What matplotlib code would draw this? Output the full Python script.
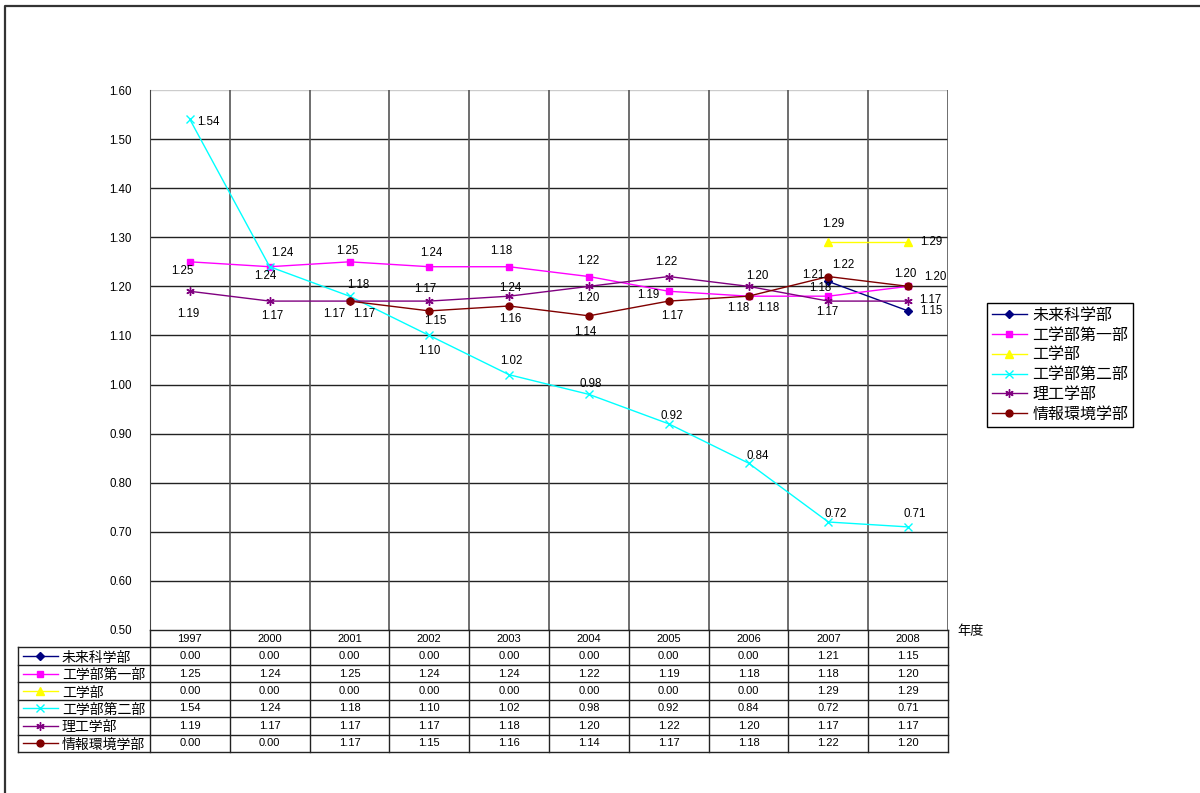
import numpy as np
import matplotlib
matplotlib.use('Agg')
import matplotlib.pyplot as plt
from matplotlib.lines import Line2D

plt.rcParams['font.family'] = ['Liberation Sans', 'Noto Sans CJK JP', 'DejaVu Sans']

# years and per-faculty values (0.00 = no data for that year)
years = ['1997', '2000', '2001', '2002', '2003', '2004', '2005', '2006', '2007', '2008']
names = ['未来科学部', '工学部第一部', '工学部', '工学部第二部', '理工学部', '情報環境学部']
mirai = [0.00, 0.00, 0.00, 0.00, 0.00, 0.00, 0.00, 0.00, 1.21, 1.15]
kou1 = [1.25, 1.24, 1.25, 1.24, 1.24, 1.22, 1.19, 1.18, 1.18, 1.20]
kou = [0.00, 0.00, 0.00, 0.00, 0.00, 0.00, 0.00, 0.00, 1.29, 1.29]
kou2 = [1.54, 1.24, 1.18, 1.10, 1.02, 0.98, 0.92, 0.84, 0.72, 0.71]
rikou = [1.19, 1.17, 1.17, 1.17, 1.18, 1.20, 1.22, 1.20, 1.17, 1.17]
jouhou = [0.00, 0.00, 1.17, 1.15, 1.16, 1.14, 1.17, 1.18, 1.22, 1.20]
series = [mirai, kou1, kou, kou2, rikou, jouhou]

# line styles for each faculty
colors = ['#000080', '#FF00FF', '#FFFF00', '#00FFFF', '#800080', '#800000']
markers = ['D', 's', '^', 'x', (6, 2, 0), 'o']
msizes = [4, 5, 6, 6, 6, 5]

# where each value label sits relative to its point (pixels, right / down)
offsets = [
    [None] * 8 + [(-15, -6), (23, 0)],
    [(-8, 9), (-4, 9), (-2, -11), (2, -14), (1, 21), (-1, -16), (-20, 4), (-10, 12), (-8, -8), (27, -9)],
    [None] * 8 + [(5, -18), (23, 0)],
    [(19, 3), (13, -14), (9, -11), (0, 16), (2, -14), (2, -10), (3, -8), (9, -7), (7, -8), (7, -13)],
    [(-2, 23), (3, 15), (-15, 13), (-4, -12), (-8, -45), (-1, 12), (-2, -15), (9, -10), (-1, 11), (22, -1)],
    [None, None, (15, 13), (6, 10), (1, 13), (-4, 16), (4, 15), (20, 12), (15, -12), (-3, -12)],
]

W, H = 1200, 793
fig = plt.figure(figsize=(W / 100, H / 100), dpi=100)

# outer frame (left and top edges)
fig.add_artist(Line2D([5 / W, 5 / W, 1.0], [0.0, 1 - 6 / H, 1 - 6 / H],
                      transform=fig.transFigure, color='#333333', lw=1.6))

ax = fig.add_axes([150 / W, 1 - 630 / H, 798 / W, 540 / H])
x = np.arange(len(years))
ax.set_xlim(-0.5, len(years) - 0.5)
ax.set_ylim(0.5, 1.6)
ax.set_yticks(np.arange(0.5, 1.61, 0.1))
ax.set_yticklabels(['%.2f' % v for v in np.arange(0.5, 1.61, 0.1)], fontsize=8.3)
ax.tick_params(axis='y', length=0, pad=13)
ax.set_xticks([])
for sp in ['top', 'right', 'bottom']:
    ax.spines[sp].set_visible(False)
ax.spines['left'].set_color('#444444')

# grid: horizontal at each 0.1, vertical between years
for v in np.arange(0.6, 1.55, 0.1):
    ax.axhline(v, color='#222222', lw=1.0, zorder=1)
ax.axhline(1.6, color='#cccccc', lw=1.0, zorder=1)
for b in np.arange(0.5, len(years) - 0.4, 1.0):
    ax.axvline(b, color='#555555', lw=1.2, zorder=1)

handles = []
for vals, name, c, m, ms, offs in zip(series, names, colors, markers, msizes, offsets):
    y = np.array([v if v > 0 else np.nan for v in vals])
    h, = ax.plot(x, y, color=c, lw=1.0, marker=m, ms=ms, mec=c, mfc=c, label=name, zorder=3,
                 clip_on=False)
    handles.append(h)
    for i, v in enumerate(vals):
        if v > 0 and offs[i] is not None:
            dx, dy = offs[i]
            ax.annotate('%.2f' % v, (x[i], v), xytext=(dx, -dy), textcoords='offset pixels',
                        ha='center', va='center', fontsize=8.3, zorder=4)

fig.legend(handles=handles, loc='upper left', bbox_to_anchor=(987 / W, 1 - 303 / H),
           fontsize=11.5, frameon=True, fancybox=False, edgecolor='black', framealpha=1,
           borderpad=0.3, labelspacing=0.3, handlelength=2.2, handletextpad=0.35,
           borderaxespad=0)

fig.text(957 / W, 1 - 630 / H, '年度', fontsize=9.5, ha='left', va='center_baseline')

# data table under the chart, columns shared with the plot
tax = fig.add_axes([150 / W, 1 - 752 / H, 798 / W, 122 / H], sharex=ax)
tax.set_ylim(7, 0)
tax.axis('off')
left = -0.5 - 132 / 79.8
lc = '#222222'
for r in range(0, 8):
    x0 = -0.5 if r == 0 else left
    tax.plot([x0, len(years) - 0.5], [r, r], color=lc, lw=1.0, clip_on=False)
tax.plot([left, left], [1, 7], color=lc, lw=1.0, clip_on=False)
for b in np.arange(-0.5, len(years), 1.0):
    tax.plot([b, b], [0, 7], color=lc, lw=1.0, clip_on=False)
for i, yr in enumerate(years):
    tax.text(i, 0.5, yr, ha='center', va='center', fontsize=8)
for r, (vals, name, c, m, ms) in enumerate(zip(series, names, colors, markers, msizes)):
    ry = r + 1.5
    tax.plot([left + 0.06, left + 0.5], [ry, ry], color=c, lw=1.0, clip_on=False)
    tax.plot([left + 0.28], [ry], color=c, marker=m, ms=ms, mec=c, mfc=c, clip_on=False)
    tax.text(left + 0.55, ry, name, ha='left', va='center_baseline', fontsize=10)
    for i, v in enumerate(vals):
        tax.text(i, ry, '%.2f' % v, ha='center', va='center', fontsize=8)

fig.savefig('out.png', dpi=100)
